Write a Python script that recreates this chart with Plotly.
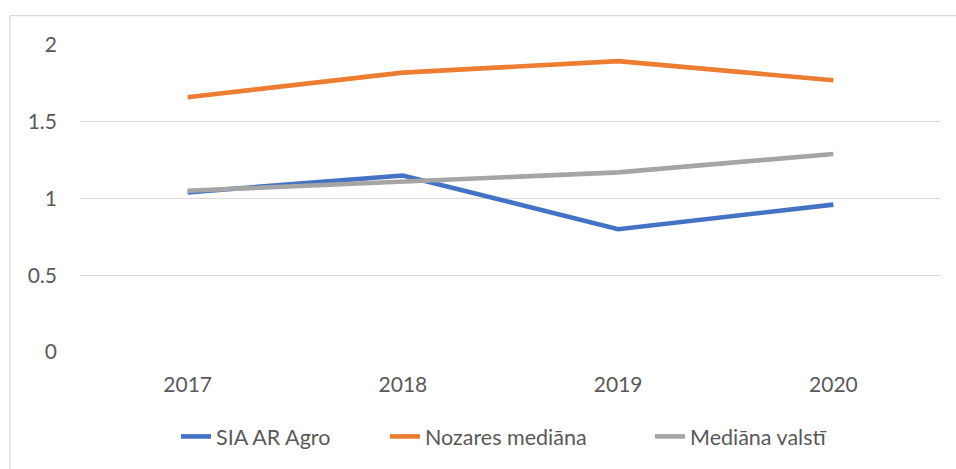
import plotly.graph_objects as go

years = ["2017", "2018", "2019", "2020"]
sia_ar_agro = [1.04, 1.15, 0.80, 0.96]
nozares_mediana = [1.66, 1.82, 1.895, 1.77]
mediana_valsti = [1.05, 1.107, 1.17, 1.29]
y_ticks = [0, 0.5, 1, 1.5, 2]
y_tick_labels = ["0", "0.5", "1", "1.5", "2"]

series = [
    ("SIA AR Agro", sia_ar_agro, "#4472C4"),
    ("Nozares mediāna", nozares_mediana, "#ED7D31"),
    ("Mediāna valstī", mediana_valsti, "#A5A5A5"),
]

W, H = 956, 469
L, R, T, B = 80, 15, 45, 115
pw, ph = W - L - R, H - T - B

# pixel x where each legend's text should begin
legend_text_px = [216, 425, 690]
legend_ids = ["legend", "legend2", "legend3"]
TEXT_OFFSET = 40  # approx distance from legend box left to text start

fig = go.Figure()
for (name, vals, color), lid in zip(series, legend_ids):
    fig.add_trace(go.Scatter(
        x=list(range(len(years))), y=vals, name=name, mode="lines",
        line=dict(color=color, width=4.6), legend=lid,
    ))

leg_y = -(439 - (T + ph)) / ph
legends = {}
for lid, tx in zip(legend_ids, legend_text_px):
    legends[lid] = dict(orientation="h", x=(tx - TEXT_OFFSET - L) / pw,
                        xanchor="left", y=leg_y, yanchor="middle",
                        font=dict(size=21.5, color="#595959"),
                        bgcolor="rgba(0,0,0,0)")

fig.update_layout(
    width=W, height=H,
    margin=dict(l=L, r=R, t=T, b=B),
    paper_bgcolor="white", plot_bgcolor="white",
    font=dict(family="Lato, Noto Sans, sans-serif", size=21, color="#595959"),
    showlegend=True,
    xaxis=dict(range=[-0.5, len(years) - 0.5], tickmode="array",
               tickvals=list(range(len(years))), ticktext=years,
               showgrid=False, zeroline=False, showline=False, ticks="",
               ticklabelstandoff=18),
    yaxis=dict(range=[0, 2], tickmode="array", tickvals=y_ticks,
               ticktext=y_tick_labels, showgrid=True, gridcolor="#D9D9D9",
               gridwidth=1.3, zeroline=False, showline=False, ticks="",
               ticklabelstandoff=22),
    shapes=[dict(type="rect", xref="paper", yref="paper",
                 x0=(10 - L) / pw, x1=(W + 5 - L) / pw,
                 y0=-(H + 5 - (T + ph)) / ph, y1=(T + ph - 15.5) / ph,
                 line=dict(color="#D9D9D9", width=1.3), layer="below")],
    **legends,
)

fig.write_html(
    "out.html",
    config={"displayModeBar": False},
    post_script="document.body.style.margin='0';document.body.style.padding='0';document.body.style.overflow='hidden';",
)
